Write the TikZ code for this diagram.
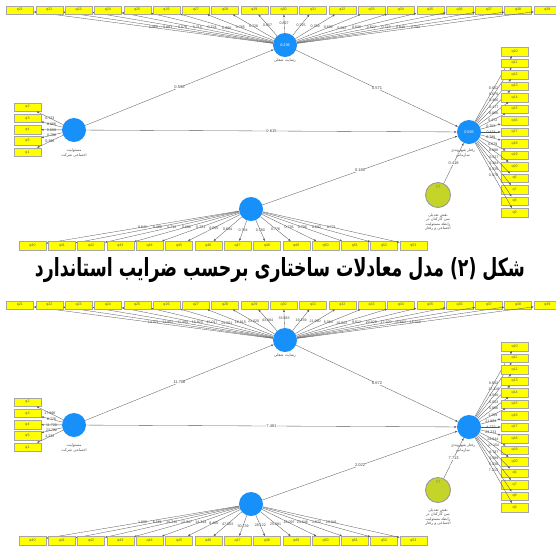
\documentclass[tikz,border=0pt]{standalone}
\usepackage{fontspec}
\usepackage{graphicx}
\setmainfont{Liberation Sans}
\newfontfamily\fa[Script=Arabic]{DejaVu Sans}
\TeXXeTstate=1
\usetikzlibrary{arrows.meta}
\definecolor{plsblue}{RGB}{24,144,250}
\definecolor{indyel}{RGB}{255,255,0}
\definecolor{modgreen}{RGB}{196,212,40}
\def\setpaths#1#2#3#4#5{\def\pa{#1}\def\pb{#2}\def\pc{#3}\def\pd{#4}\def\pe{#5}}
\tikzset{
 ind/.style={draw=black!35, fill=indyel, minimum width=27pt, minimum height=8.5pt, inner sep=0pt, font=\fontsize{3.6}{4}\selectfont, text=black!65},
 lv/.style={circle, fill=plsblue, minimum size=24pt, inner sep=0pt, font=\fontsize{3.8}{4}\selectfont, text=white},
 modlv/.style={circle, fill=modgreen, draw=black!40, line width=0.9pt, minimum size=25pt, inner sep=0pt},
 ld/.style={draw=black!65, line width=0.32pt, -{Latex[length=2.4pt,width=2pt]}},
 lab/.style={font=\fontsize{3.6}{4}\selectfont, text=black!75, inner sep=0.2pt},
 plab/.style={font=\fontsize{4}{4.5}\selectfont, text=black!75, fill=white, inner sep=0.4pt},
 faname/.style={font=\fa\fontsize{3.8}{4.6}\selectfont, text=black!70, align=center, inner sep=0pt},
}
\newcommand\SEMpanel[9]{%
\setpaths#7%
\begin{scope}[shift={(0,#2)}]
 \node[lv] (#1T) at (285,45) {#8};
 \node[lv] (#1L) at (74,130) {};
 \node[lv] (#1R) at (469,132) {#9};
 \node[lv] (#1B) at (251,209) {};
 \node[modlv] (#1M) at (438,195) {};
 \node[font=\fontsize{3}{3}\selectfont, text=black!60, inner sep=0pt] (#1Mp) at (438,187) {[+]};
 \node[faname] (#1Tn) at (285,61) {\beginR رضایت شغلی\endR};
 \node[faname] (#1Ln) at (74,153) {\beginR مسئولیت\endR\\\beginR اجتماعی شرکت\endR};
 \node[faname] (#1Rn) at (463,153) {\beginR رفتار شهروندی\endR\\\beginR سازمانی\endR};
 \node[faname] (#1Mn) at (438,222) {\beginR نقش تعدیلی\endR\\\beginR سن کارکنان در\endR\\\beginR رابطه مسئولیت\endR\\\beginR اجتماعی و رفتار\endR};
 \foreach \v [count=\i from 0] in {#3} {
   \pgfmathtruncatemacro\q{21+\i}
   \node[ind] (#1t\i) at ({20+29.3*\i},10) {q\q};
   \draw[ld] (#1T) -- (#1t\i) node[lab,pos=0.5] {\v};
 }
 \foreach \v [count=\i from 0] in {#4} {
   \pgfmathtruncatemacro\q{{2,3,4,5,1}[\i]}
   \node[ind] (#1l\i) at (27.5,{107+11.3*\i}) {q\q};
   \draw[ld] (#1L) -- (#1l\i) node[lab,pos=0.5] {\v};
 }
 \foreach \v [count=\i from 0] in {#5} {
   \pgfmathtruncatemacro\q{\i<11 ? 10+\i : \i-5}
   \node[ind] (#1r\i) at (514.5,{51.5+11.5*\i}) {q\q};
   \draw[ld] (#1R) -- (#1r\i) node[lab,pos=0.5] {\v};
 }
 \foreach \v [count=\i from 0] in {#6} {
   \pgfmathtruncatemacro\q{40+\i}
   \node[ind] (#1b\i) at ({32.5+29.3*\i},245.5) {q\q};
   \draw[ld] (#1B) -- (#1b\i) node[lab,pos=0.5] {\v};
 }
 \draw[ld] (#1L) -- (#1T) node[plab,pos=.5] {\pa};
 \draw[ld] (#1L) -- (#1R) node[plab,pos=.5] {\pb};
 \draw[ld] (#1T) -- (#1R) node[plab,pos=.5] {\pc};
 \draw[ld] (#1B) -- (#1R) node[plab,pos=.5] {\pd};
 \draw[ld] (#1M) -- (#1R) node[plab,pos=.5] {\pe};
\end{scope}}
\begin{document}
\begin{tikzpicture}[x=1pt,y=-1pt]
\useasboundingbox (0,0) rectangle (556,547);
\clip (0,0) rectangle (556,547);
\fill[white] (0,0) rectangle (556,547);
\SEMpanel{A}{0}%
 {0.489,0.663,0.578,0.715,0.724,0.660,0.765,0.728,0.657,0.827,0.725,0.769,0.692,0.562,0.636,0.622,0.723,0.648,0.700}%
 {0.733,0.666,0.668,0.796,0.396}%
 {0.602,0.679,0.466,0.477,0.868,0.472,0.752,0.424,0.788,0.679,0.888,0.527,0.464,0.435,0.470}%
 {0.641,0.460,0.712,0.666,0.721,0.555,0.604,0.764,0.780,0.776,0.736,0.706,0.692,0.771}%
 {{0.596}{0.615}{0.571}{0.180}{0.418}}{0.236}{0.565}
\node[inner sep=0pt] (caption) at (280,270) {\resizebox{490pt}{19pt}{\fa\bfseries\beginR شکل (۲) مدل معادلات ساختاری برحسب ضرایب استاندارد\endR}};
\SEMpanel{B}{295}%
 {14.321,14.802,11.304,16.923,15.017,15.201,16.815,21.020,43.684,33.663,19.239,21.990,5.064,10.022,9.612,20.026,17.220,15.662,16.328}%
 {17.896,6.776,11.720,23.782,4.232}%
 {9.632,17.119,4.540,5.002,5.886,1.209,21.884,4.722,23.233,24.644,17.154,8.787,5.589,5.430,7.213}%
 {1.602,6.561,15.215,12.947,14.344,8.400,47.003,30.739,28.122,25.681,16.097,23.646,1.672,23.041}%
 {{11.706}{7.481}{6.672}{2.022}{7.713}}{}{}
\end{tikzpicture}
\end{document}
